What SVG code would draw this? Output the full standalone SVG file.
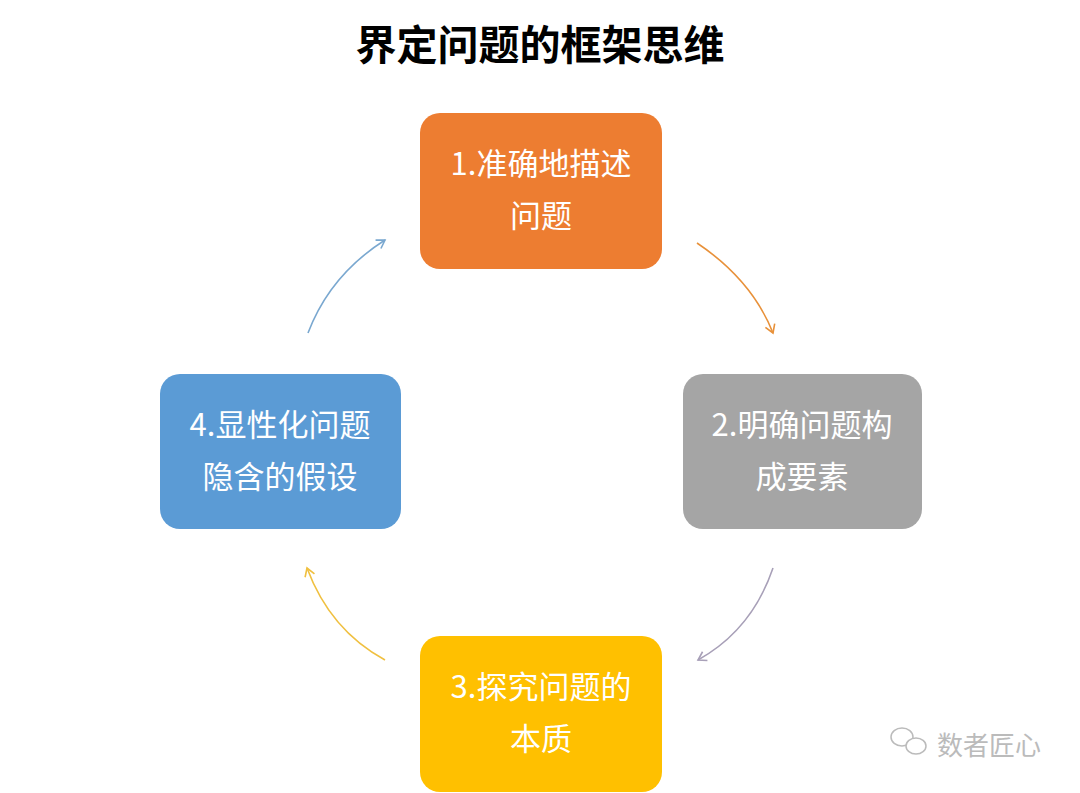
<svg xmlns="http://www.w3.org/2000/svg" width="1080" height="793" viewBox="0 0 1080 793">
<style>
.t{font-family:"Noto Sans CJK SC","Liberation Sans",sans-serif;fill:#fff;font-size:31px;text-anchor:middle}
.c{fill:none;stroke-width:1.6}
</style>
<defs>
<marker id="mo" markerWidth="12" markerHeight="12" refX="9" refY="6" orient="auto" markerUnits="userSpaceOnUse"><path d="M1,1 L9,6 L1,11" fill="none" stroke="#e8913a" stroke-width="1.6"/></marker>
<marker id="mg" markerWidth="12" markerHeight="12" refX="9" refY="6" orient="auto" markerUnits="userSpaceOnUse"><path d="M1,1 L9,6 L1,11" fill="none" stroke="#a8a0b8" stroke-width="1.6"/></marker>
<marker id="my" markerWidth="12" markerHeight="12" refX="9" refY="6" orient="auto" markerUnits="userSpaceOnUse"><path d="M1,1 L9,6 L1,11" fill="none" stroke="#f0c040" stroke-width="1.6"/></marker>
<marker id="mb" markerWidth="12" markerHeight="12" refX="9" refY="6" orient="auto" markerUnits="userSpaceOnUse"><path d="M1,1 L9,6 L1,11" fill="none" stroke="#7aa8d0" stroke-width="1.6"/></marker>
</defs>
<rect width="1080" height="793" fill="#fff"/>
<text x="540" y="60" font-family="Noto Sans CJK SC,sans-serif" font-weight="bold" font-size="41" text-anchor="middle" fill="#000">界定问题的框架思维</text>
<g id="connectors">
<path class="c" stroke="#e8913a" d="M697,243 Q752,280 773,333" marker-end="url(#mo)"/>
<path class="c" stroke="#a8a0b8" d="M773,568 Q752,630 698,660" marker-end="url(#mg)"/>
<path class="c" stroke="#f0c040" d="M385,660 Q330,630 307,568" marker-end="url(#my)"/>
<path class="c" stroke="#7aa8d0" d="M308,333 Q330,275 385,240" marker-end="url(#mb)"/>
</g>
<g id="n1"><rect x="420" y="113" width="242" height="156" rx="20" fill="#ed7d31"/><text class="t" x="541" y="175">1.准确地描述</text><text class="t" x="541" y="227">问题</text></g>
<g id="n2"><rect x="683" y="374" width="239" height="155" rx="20" fill="#a5a5a5"/><text class="t" x="802" y="436">2.明确问题构</text><text class="t" x="802" y="488">成要素</text></g>
<g id="n3"><rect x="420" y="636" width="242" height="156" rx="20" fill="#ffc000"/><text class="t" x="541" y="698">3.探究问题的</text><text class="t" x="541" y="750">本质</text></g>
<g id="n4"><rect x="160" y="374" width="241" height="155" rx="20" fill="#5b9bd5"/><text class="t" x="280" y="436">4.显性化问题</text><text class="t" x="280" y="488">隐含的假设</text></g>
<g id="wm" fill="none" stroke="#bbb" stroke-width="1.5">
<ellipse cx="902" cy="737" rx="11" ry="9"/><ellipse cx="916" cy="746" rx="10" ry="8" fill="#fff"/>
<text x="937" y="755" font-family="Noto Sans CJK SC,sans-serif" font-size="26" fill="#bbb" stroke="none">数者匠心</text>
</g>
</svg>
